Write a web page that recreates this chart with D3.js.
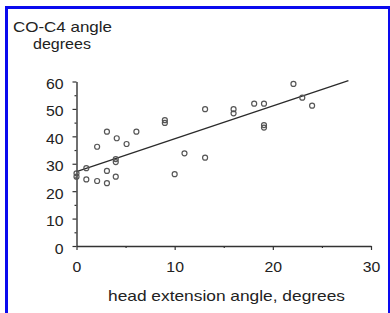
<!DOCTYPE html>
<html><head><meta charset="utf-8">
<script src="https://cdn.jsdelivr.net/npm/d3@7"></script>
<style>
body{margin:0;background:#fff;overflow:hidden}
svg{display:block}
text{font-family:"Liberation Sans",Arial,Helvetica,sans-serif;fill:#222}
</style>
</head><body>
<script>
// Data
const headExtension = [3.1, 6.1, 4.1, 5.1, 2.1, 4.0, 4.0, 1.0, 0, 0, 3.1, 4.0, 1.0, 2.1, 3.1,
  9.0, 9.0, 13.1, 11.0, 13.1, 10.0, 16.0, 16.0, 18.1, 19.1, 19.1, 19.1, 22.1, 23.0, 24.0];
const coC4Angle = [41.7, 41.7, 39.3, 37.2, 36.2, 31.7, 30.6, 28.4, 26.5, 25.3, 27.4, 25.3, 24.3, 23.7, 22.9,
  45.9, 44.9, 49.9, 33.8, 32.2, 26.2, 49.9, 48.4, 51.9, 51.9, 44.1, 43.2, 59.1, 54.1, 51.2];
const fitX = [0, 27.7];
const fitY = [27.1, 60.3];
const xTicks = [0, 10, 20, 30];
const xMinor = [5, 15, 25];
const yTicks = [0, 10, 20, 30, 40, 50, 60];
const yMinor = [5, 15, 25, 35, 45, 55];
const titleLines = ["CO-C4 angle", "degrees"];
const xLabel = "head extension angle, degrees";

const W = 390, H = 313;
const svg = d3.select("body").append("svg").attr("width", W).attr("height", H);

// blue frame
svg.append("rect").attr("x", 5).attr("y", 6).attr("width", 3).attr("height", H - 6).attr("fill", "#0a0aee");
svg.append("rect").attr("x", 5).attr("y", 6).attr("width", W - 5).attr("height", 3).attr("fill", "#0a0aee");
svg.append("rect").attr("x", 388).attr("y", 6).attr("width", 2).attr("height", H - 6).attr("fill", "#0a0aee");

const x = d3.scaleLinear().domain([0, 30]).range([76.5, 371]);
const y = d3.scaleLinear().domain([0, 60]).range([246, 81.5]);

function styleAxis(g) {
  g.select(".domain").attr("stroke", "#333").attr("stroke-width", 1.4);
  g.selectAll(".tick line").attr("stroke", "#333").attr("stroke-width", 1.2);
  g.selectAll("text").attr("font-size", 14).attr("fill", "#222")
    .each(function () {
      const t = d3.select(this).text();
      d3.select(this).attr("textLength", t.length * 8.8).attr("lengthAdjust", "spacingAndGlyphs");
    });
}

// y axis
svg.append("g").attr("transform", `translate(${x(0)},0)`)
  .call(d3.axisLeft(y).tickValues(yMinor).tickSize(2).tickFormat("").tickSizeOuter(0))
  .call(g => { g.select(".domain").remove(); g.selectAll(".tick line").attr("stroke", "#333").attr("stroke-width", 1.2); });
const gy = svg.append("g").attr("transform", `translate(${x(0)},0)`)
  .call(d3.axisLeft(y).tickValues(yTicks).tickSize(4).tickPadding(9).tickSizeOuter(0))
  .call(styleAxis);
gy.selectAll("text").attr("dy", "0.5em");

// x axis
svg.append("g").attr("transform", `translate(0,${y(0)})`)
  .call(d3.axisBottom(x).tickValues(xMinor).tickSize(2).tickFormat("").tickSizeOuter(0))
  .call(g => { g.select(".domain").remove(); g.selectAll(".tick line").attr("stroke", "#333").attr("stroke-width", 1.2); });
svg.append("g").attr("transform", `translate(0,${y(0)})`)
  .call(d3.axisBottom(x).tickValues(xTicks).tickSize(4).tickPadding(12).tickSizeOuter(0))
  .call(styleAxis);

// regression line
svg.append("line")
  .attr("x1", x(fitX[0])).attr("y1", y(fitY[0]))
  .attr("x2", x(fitX[1])).attr("y2", y(fitY[1]))
  .attr("stroke", "#2a2a2a").attr("stroke-width", 1.3);

// points
svg.append("g").selectAll("circle")
  .data(headExtension.map((d, i) => [d, coC4Angle[i]]))
  .join("circle")
  .attr("cx", d => x(d[0])).attr("cy", d => y(d[1]))
  .attr("r", 2.5).attr("fill", "none").attr("stroke", "#555").attr("stroke-width", 1.2);

// titles
svg.append("text").attr("x", 13).attr("y", 31.5).attr("font-size", 15)
  .attr("textLength", 99).attr("lengthAdjust", "spacingAndGlyphs").text(titleLines[0]);
svg.append("text").attr("x", 33).attr("y", 49).attr("font-size", 15)
  .attr("textLength", 58).attr("lengthAdjust", "spacingAndGlyphs").text(titleLines[1]);
svg.append("text").attr("x", 108).attr("y", 301).attr("font-size", 15)
  .attr("textLength", 237).attr("lengthAdjust", "spacingAndGlyphs").text(xLabel);
</script>
</body></html>
